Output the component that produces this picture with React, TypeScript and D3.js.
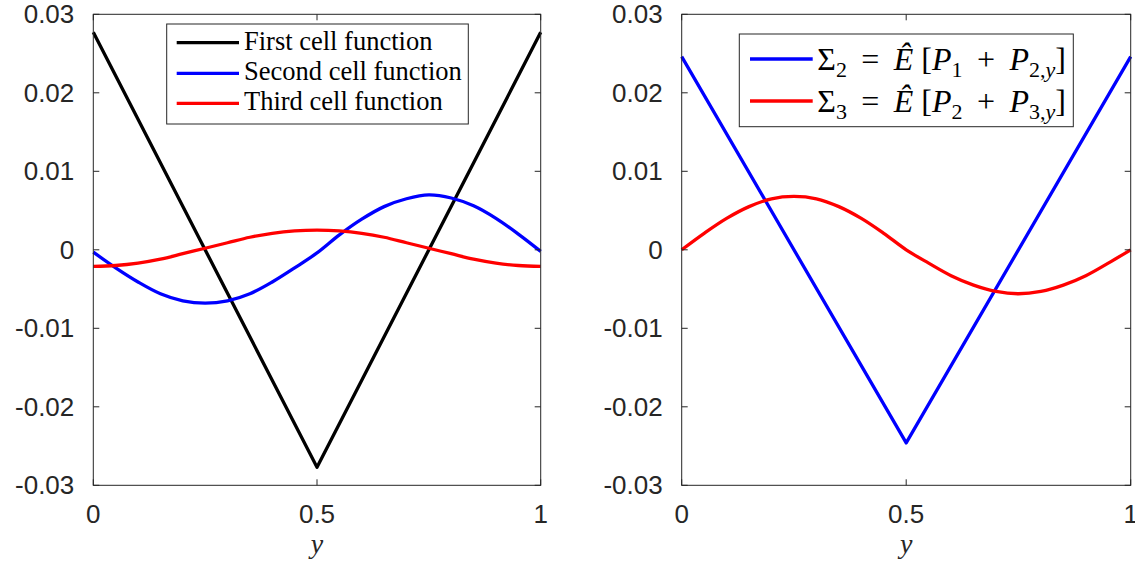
import React from "react";
import * as d3 from "d3";

// sample positions (y coordinate of the cell)
const yGrid = [0, 0.05, 0.1, 0.15, 0.2, 0.25, 0.3, 0.35, 0.4, 0.45, 0.5, 0.55, 0.6, 0.65, 0.7, 0.75, 0.8, 0.85, 0.9, 0.95, 1];
const vGrid = [0, 0.5, 1];

// left panel
const firstCell = [0.0277, -0.0277, 0.0277];
const secondCell = [-0.0003, -0.0023, -0.0041, -0.0056, -0.0065, -0.0068, -0.0065, -0.0056, -0.0041, -0.0023, -0.0004, 0.0019, 0.0039, 0.0055, 0.0065, 0.007, 0.0066, 0.0056, 0.004, 0.002, -0.0002];
const thirdCell = [-0.0021, -0.002, -0.0017, -0.0012, -0.0005, 0.0002, 0.0009, 0.0016, 0.0021, 0.0024, 0.0025, 0.0024, 0.0021, 0.0016, 0.0009, 0.0002, -0.0005, -0.0012, -0.0017, -0.002, -0.0021];

// right panel
const sigma2 = [0.0246, -0.0246, 0.0246];
const sigma3 = [0, 0.0021, 0.004, 0.0055, 0.0065, 0.0068, 0.0065, 0.0055, 0.004, 0.0021, 0, -0.0017, -0.0033, -0.0045, -0.0053, -0.0056, -0.0053, -0.0045, -0.0033, -0.0017, 0];

const xTicks = [0, 0.5, 1];
const xTickLabels = ["0", "0.5", "1"];
const yTicks = [-0.03, -0.02, -0.01, 0, 0.01, 0.02, 0.03];
const yTickLabels = ["-0.03", "-0.02", "-0.01", "0", "0.01", "0.02", "0.03"];

const axisColor = "#262626";
const sansFont = "'Liberation Sans', Arial, sans-serif";
const serifFont = "'Liberation Serif', 'Times New Roman', serif";
const lineW = 3.3;

type Series = { xs: number[]; ys: number[]; color: string; smooth: boolean };

function Panel({ left, right, top, bottom, series }: { left: number; right: number; top: number; bottom: number; series: Series[] }) {
  const x = d3.scaleLinear().domain([0, 1]).range([left, right]);
  const y = d3.scaleLinear().domain([-0.03, 0.03]).range([bottom, top]);
  const tick = 6;
  return (
    <g>
      {series.map((s, i) => {
        const line = d3
          .line<number>()
          .x((_, j) => x(s.xs[j]))
          .y((d) => y(d))
          .curve(s.smooth ? d3.curveCatmullRom : d3.curveLinear);
        return <path key={i} d={line(s.ys) ?? ""} fill="none" stroke={s.color} strokeWidth={lineW} strokeLinejoin="round" />;
      })}
      <rect x={left} y={top} width={right - left} height={bottom - top} fill="none" stroke={axisColor} strokeWidth={1} />
      {xTicks.map((t, i) => (
        <g key={"x" + t}>
          <line x1={x(t)} x2={x(t)} y1={bottom} y2={bottom - tick} stroke={axisColor} />
          <line x1={x(t)} x2={x(t)} y1={top} y2={top + tick} stroke={axisColor} />
          <text x={x(t)} y={523} textAnchor="middle" fontFamily={sansFont} fontSize={26} fill={axisColor}>
            {xTickLabels[i]}
          </text>
        </g>
      ))}
      {yTicks.map((t, i) => (
        <g key={"y" + t}>
          <line x1={left} x2={left + tick} y1={y(t)} y2={y(t)} stroke={axisColor} />
          <line x1={right} x2={right - tick} y1={y(t)} y2={y(t)} stroke={axisColor} />
          <text x={left - 19} y={y(t) + 9} textAnchor="end" fontFamily={sansFont} fontSize={26} fill={axisColor}>
            {yTickLabels[i]}
          </text>
        </g>
      ))}
      <text x={(left + right) / 2} y={553} textAnchor="middle" fontFamily={serifFont} fontStyle="italic" fontSize={28} fill={axisColor}>
        y
      </text>
    </g>
  );
}

function MathLabel({ x, y, sub, a, b }: { x: number; y: number; sub: string; a: string; b: string }) {
  const fs = 32;
  const ss = 22;
  const d = 7;
  const th = "\u2009";
  return (
    <text x={x} y={y} fontFamily={serifFont} fontSize={fs} fill="#000" style={{ whiteSpace: "pre" }}>
      <tspan>Σ</tspan>
      <tspan fontSize={ss} dy={d}>{sub}</tspan>
      <tspan dy={-d}>{th + " = " + th}</tspan>
      <tspan fontStyle="italic">Ê</tspan>
      <tspan>{" ["}</tspan>
      <tspan fontStyle="italic">P</tspan>
      <tspan fontSize={ss} dy={d}>{a}</tspan>
      <tspan dy={-d}>{th + " + " + th}</tspan>
      <tspan fontStyle="italic">P</tspan>
      <tspan fontSize={ss} dy={d}>{b + ","}</tspan>
      <tspan fontSize={ss} fontStyle="italic">y</tspan>
      <tspan dy={-d}>]</tspan>
    </text>
  );
}

export default function App() {
  const leftLegend = [
    { label: "First cell function", color: "#000000" },
    { label: "Second cell function", color: "#0000ff" },
    { label: "Third cell function", color: "#ff0000" },
  ];
  const legendRows = [42.7, 73.3, 103.3];
  return (
    <svg width={1135} height={568} style={{ position: "absolute", left: 0, top: 0, background: "#fff" }}>
      <Panel
        left={93.3}
        right={540.7}
        top={14.3}
        bottom={485.3}
        series={[
          { xs: vGrid, ys: firstCell, color: "#000000", smooth: false },
          { xs: yGrid, ys: secondCell, color: "#0000ff", smooth: true },
          { xs: yGrid, ys: thirdCell, color: "#ff0000", smooth: true },
        ]}
      />
      <Panel
        left={681.7}
        right={1130.7}
        top={14.3}
        bottom={485.3}
        series={[
          { xs: vGrid, ys: sigma2, color: "#0000ff", smooth: false },
          { xs: yGrid, ys: sigma3, color: "#ff0000", smooth: true },
        ]}
      />
      {/* left legend */}
      <rect x={166.7} y={24} width={301.6} height={100} fill="#fff" stroke={axisColor} strokeWidth={1} />
      {leftLegend.map((l, i) => (
        <g key={l.label}>
          <line x1={176.7} x2={239} y1={legendRows[i]} y2={legendRows[i]} stroke={l.color} strokeWidth={lineW} />
          <text x={244} y={legendRows[i] + 7} fontFamily={serifFont} fontSize={26.5} fill="#000">
            {l.label}
          </text>
        </g>
      ))}
      {/* right legend */}
      <rect x={739.3} y={34} width={334} height={92.7} fill="#fff" stroke={axisColor} strokeWidth={1} />
      <line x1={750} x2={812.7} y1={59} y2={59} stroke="#0000ff" strokeWidth={lineW} />
      <line x1={750} x2={812.7} y1={101} y2={101} stroke="#ff0000" strokeWidth={lineW} />
      <MathLabel x={817.3} y={70} sub="2" a="1" b="2" />
      <MathLabel x={817.3} y={112} sub="3" a="2" b="3" />
    </svg>
  );
}
